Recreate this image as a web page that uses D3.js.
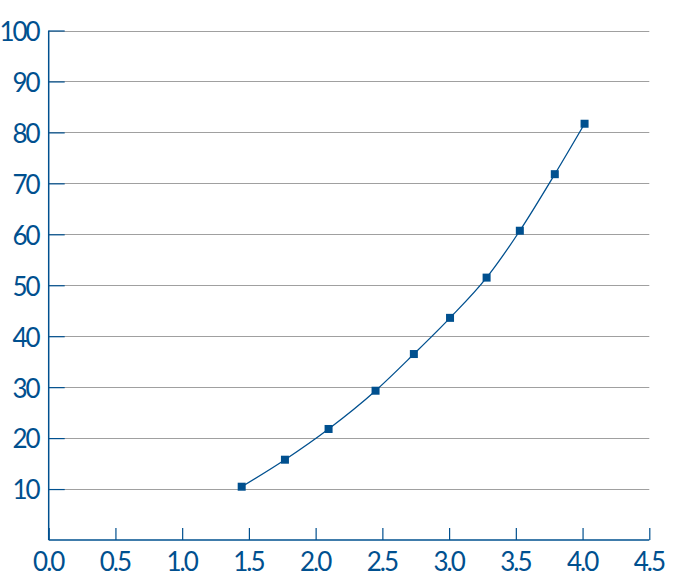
<!DOCTYPE html>
<html><head><meta charset="utf-8">
<script src="https://cdn.jsdelivr.net/npm/d3@7"></script>
<style>body{margin:0;background:#fff}svg{display:block}</style>
</head><body>
<script>
const xValues = [1.446, 1.770, 2.097, 2.449, 2.736, 3.007, 3.281, 3.530, 3.792, 4.015];
const yValues = [10.46, 15.76, 21.79, 29.3, 36.5, 43.6, 51.5, 60.7, 71.8, 81.7];
const xTicks = [0, 0.5, 1, 1.5, 2, 2.5, 3, 3.5, 4, 4.5];
const yTicks = [10, 20, 30, 40, 50, 60, 70, 80, 90, 100];

const W = 679, H = 582;
const blue = "#00508f", grid = "#a0a0a0";
const svg = d3.select("body").append("svg").attr("width", W).attr("height", H);
const x = d3.scaleLinear().domain([0, 4.5]).range([48.7, 649.3]);
const y = d3.scaleLinear().domain([0, 100]).range([540, 30.5]);
const font = "Lato, 'Open Sans', sans-serif";

// gridlines
svg.append("g").selectAll("line").data(yTicks).join("line")
  .attr("x1", x(0)).attr("x2", x(4.5))
  .attr("y1", d => Math.round(y(d)) + 0.5).attr("y2", d => Math.round(y(d)) + 0.5)
  .attr("stroke", grid).attr("stroke-width", 1.2);

// y axis
const yAxis = d3.axisLeft(y).tickValues(yTicks).tickSize(-16).tickPadding(26).tickFormat(d3.format("d"));
const gy = svg.append("g").attr("transform", `translate(${x(0)},0)`).call(yAxis);
gy.select(".domain").attr("stroke", blue).attr("stroke-width", 1.5).attr("d", `M0,${y(0)}V${y(100)}`);
gy.selectAll(".tick line").attr("stroke", blue).attr("stroke-width", 1.2);
gy.selectAll(".tick text").attr("fill", blue).attr("font-family", font).attr("font-size", 26)
  .attr("letter-spacing", -2).attr("dx", 16).attr("dy", "0.38em");

// x axis
const xAxis = d3.axisBottom(x).tickValues(xTicks).tickSize(-12).tickPadding(13).tickFormat(d3.format(".1f"));
const gx = svg.append("g").attr("transform", `translate(0,${y(0)})`).call(xAxis);
gx.select(".domain").attr("stroke", blue).attr("stroke-width", 1.5).attr("d", `M${x(0)},0H${x(4.5)}`);
gx.selectAll(".tick line").attr("stroke", blue).attr("stroke-width", 1.2);
gx.selectAll(".tick text").attr("fill", blue).attr("font-family", font).attr("font-size", 26)
  .attr("letter-spacing", -2).attr("dx", -1);

// line
const pts = xValues.map((v, i) => [v, yValues[i]]);
svg.append("path").datum(pts)
  .attr("d", d3.line().x(d => x(d[0])).y(d => y(d[1])).curve(d3.curveMonotoneX))
  .attr("fill", "none").attr("stroke", blue).attr("stroke-width", 1.3);

svg.append("g").selectAll("rect").data(pts).join("rect")
  .attr("x", d => x(d[0]) - 4).attr("y", d => y(d[1]) - 4)
  .attr("width", 8).attr("height", 8).attr("fill", blue);
</script>
</body></html>
